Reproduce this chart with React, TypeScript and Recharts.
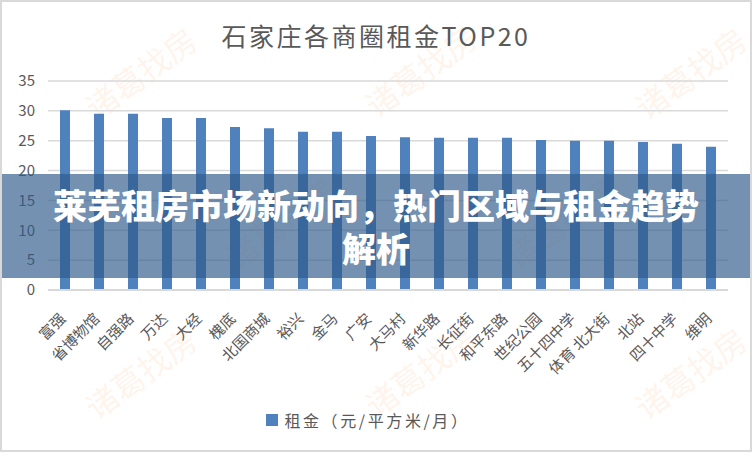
import React from 'react';
import { BarChart, Bar, XAxis, YAxis, CartesianGrid, Legend } from 'recharts';

const categories = ['富强', '省博物馆', '自强路', '万达', '大经', '槐底', '北国商城', '裕兴', '金马', '广安', '大马村', '新华路', '长征街', '和平东路', '世纪公园', '五十四中学', '体育 北大街', '北站', '四十中学', '维明'];
const rents = [30.1, 29.5, 29.5, 28.8, 28.8, 27.3, 27.1, 26.5, 26.5, 25.8, 25.6, 25.5, 25.5, 25.5, 25.1, 25.0, 25.0, 24.8, 24.5, 24.0];
const yTicks = [0, 5, 10, 15, 20, 25, 30, 35];
const seriesName = '租金（元/平方米/月）';
const chartTitle = '石家庄各商圈租金TOP20';
const bannerLines = ['莱芜租房市场新动向，热门区域与租金趋势', '解析'];
const watermark = '诸葛找房';
const marks = [[140, 72], [420, 70], [690, 72], [280, 222], [560, 222], [140, 372], [420, 370], [690, 372]];

const data = categories.map((name, i) => ({ name, rent: rents[i] }));
const font = '"Noto Sans CJK SC", "Noto Sans", sans-serif';

const XTick = ({ x, y, payload }: any) => (
  <g transform={`translate(${x - 2},${y + 26})`}>
    <text transform="rotate(-45)" textAnchor="end" dy="0.35em" fontSize={15} fill="#595959" fontFamily={font}>
      {payload.value}
    </text>
  </g>
);

const LegendBox = () => (
  <div style={{ height: 24, display: 'flex', alignItems: 'center', justifyContent: 'center', marginLeft: 0, fontFamily: font, fontSize: 16, color: '#595959', letterSpacing: 2.6 }}>
    <span style={{ width: 12, height: 12, background: '#4f81bd', display: 'inline-block', marginRight: 6 }} />
    {seriesName}
  </div>
);

export default function App() {
  return (
    <div style={{ position: 'absolute', left: 0, top: 0, width: 752, height: 452, background: '#fff', overflow: 'hidden' }}>
      <svg width={752} height={452} style={{ position: 'absolute', left: 0, top: 0 }}>
        {marks.map(([cx, cy], i) => (
          <text key={i} x={cx} y={cy} transform={`rotate(-36 ${cx} ${cy})`} textAnchor="middle" dominantBaseline="central"
            fontSize={32} fontFamily={font} fill="rgba(250,170,110,0.14)">{watermark}</text>
        ))}
      </svg>
      <div style={{ position: 'absolute', left: 0, top: 17, width: 752, textAlign: 'center', fontFamily: font, fontSize: 25, letterSpacing: 2.5, color: '#595959' }}>
        {chartTitle}
      </div>
      <div style={{ position: 'absolute', left: 0, top: 0 }}>
        <BarChart width={752} height={452} data={data} margin={{ top: 81, right: 24, bottom: 0, left: 8 }}>
          <CartesianGrid vertical={false} stroke="#d9d9d9" strokeWidth={1.5} />
          <XAxis dataKey="name" interval={0} height={138} tickLine={false} tickSize={0} tickMargin={0}
            axisLine={{ stroke: '#d9d9d9', strokeWidth: 2 }} tick={XTick} />
          <YAxis domain={[0, 35]} ticks={yTicks} width={40} axisLine={false} tickLine={false} tickSize={0} tickMargin={13}
            tick={{ fontSize: 15, fill: '#595959', fontFamily: font }} />
          <Legend verticalAlign="bottom" wrapperStyle={{ bottom: 20 }} content={LegendBox} />
          <Bar dataKey="rent" name={seriesName} fill="#4f81bd" barSize={10} isAnimationActive={false} />
        </BarChart>
      </div>
      <div style={{ position: 'absolute', left: 0, top: 174, width: 752, height: 104, background: 'rgba(47,91,138,0.67)', display: 'flex', flexDirection: 'column', alignItems: 'center', justifyContent: 'center', fontFamily: font, fontWeight: 900, fontSize: 34, lineHeight: '43px', color: '#fff' }}>
        {bannerLines.map((l, i) => <div key={i}>{l}</div>)}
      </div>
      <div style={{ position: 'absolute', left: 0, top: 0, width: 752, height: 452, boxSizing: 'border-box', border: '2px solid #d9d9d9', pointerEvents: 'none' }} />
    </div>
  );
}
